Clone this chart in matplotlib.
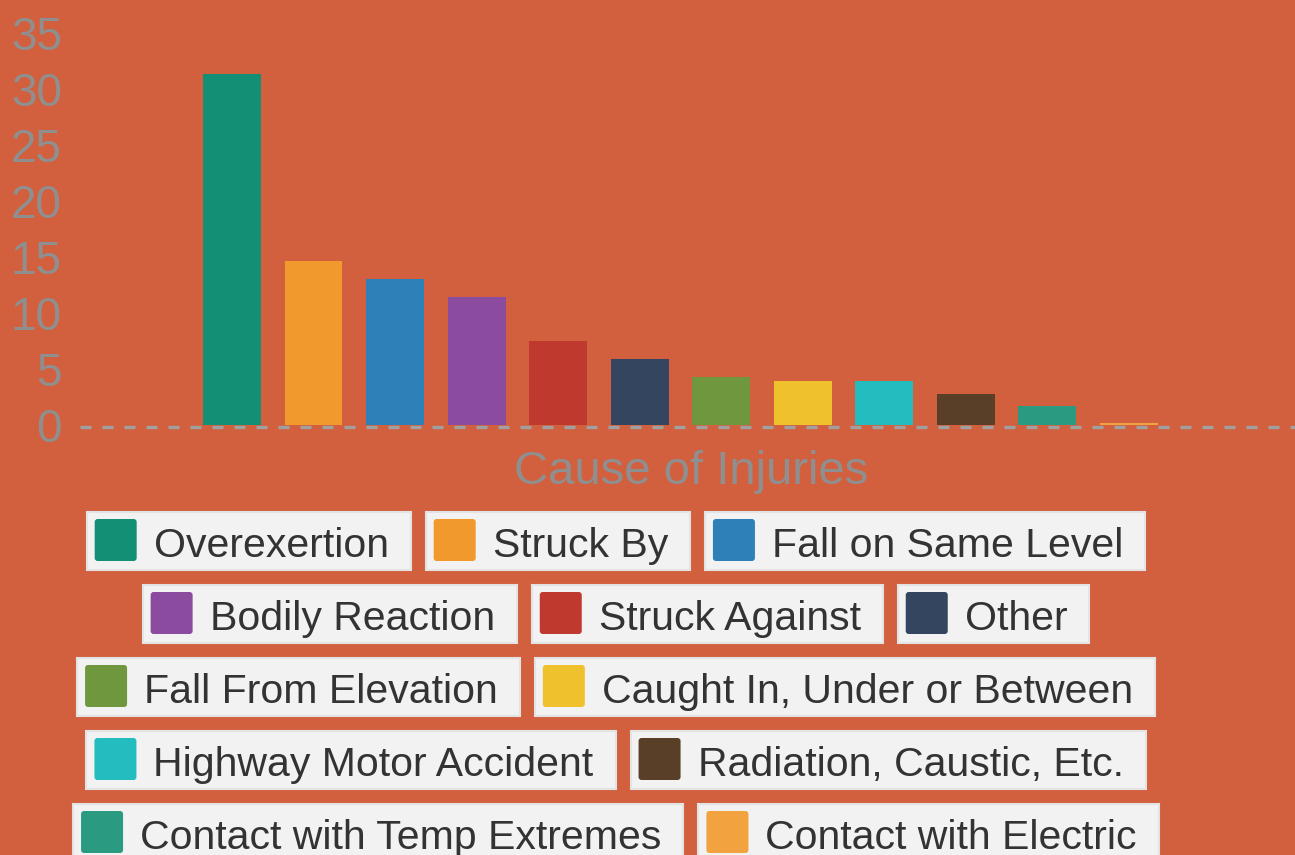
import matplotlib
matplotlib.use('Agg')
import matplotlib.pyplot as plt
import matplotlib.transforms as mtransforms
from matplotlib.patches import Rectangle, FancyBboxPatch

causes = ['Overexertion', 'Struck By', 'Fall on Same Level', 'Bodily Reaction',
          'Struck Against', 'Other', 'Fall From Elevation',
          'Caught In, Under or Between', 'Highway Motor Accident',
          'Radiation, Caustic, Etc.', 'Contact with Temp Extremes',
          'Contact with Electric']
values = [31.3, 14.6, 13.0, 11.4, 7.5, 5.9, 4.3, 3.9, 3.9, 2.8, 1.7, 0.2]
colors = ['#138f75', '#f1992c', '#2e80b9', '#8b4b9e', '#c0392e', '#34465f',
          '#6f983e', '#eec12d', '#23bdbf', '#5a3f28', '#2a9a80', '#f2a23e']
yticks = [0, 5, 10, 15, 20, 25, 30, 35]

bg = '#d2603f'
grey = '#8f8f8f'
plt.rcParams['font.family'] = ['Liberation Sans', 'DejaVu Sans']

W, H = 1295, 855
fig = plt.figure(figsize=(W / 100, H / 100), dpi=100, facecolor=bg)

# main bar axes, placed in pixel terms
ax = fig.add_axes([80 / W, (H - 425) / H, (W - 80) / W, (425 - 33) / H])
ax.set_facecolor(bg)
x = list(range(len(values)))
ax.bar(x, values, width=0.71, color=colors, zorder=2)
# zero line sits a hair below the bar bases
shift = mtransforms.ScaledTranslation(0, -2 / 100, fig.dpi_scale_trans)
ax.plot([0, 1], [0, 0], color='#a0a0a0', lw=2.4, linestyle=(0, (3.3, 3.3)),
        zorder=1, clip_on=False, transform=ax.get_yaxis_transform() + shift)
ax.set_xlim(-1.865, 13.04)
ax.set_ylim(0, 35)
ax.set_yticks(yticks)
ax.set_yticklabels([str(t) for t in yticks], fontsize=33, color=grey)
ax.tick_params(axis='y', length=0, pad=13)
ax.set_xticks([])
for s in ax.spines.values():
    s.set_visible(False)
ax.set_xlabel('Cause of Injuries', fontsize=34, color=grey)
ax.xaxis.set_label_coords(0.5 + 4 / 1215, -0.063)

# legend: flow layout of boxed items, in pixel coordinates
lg = fig.add_axes([0, 0, 1, 1])
lg.set_xlim(0, W)
lg.set_ylim(H, 0)
lg.axis('off')
lg.patch.set_alpha(0)

renderer = fig.canvas.get_renderer()
fs = 29.5
texts, widths = [], []
for c in causes:
    t = lg.text(0, 0, c, fontsize=fs, color='#333333',
                va='baseline', ha='left', zorder=5)
    texts.append(t)
    widths.append(t.get_window_extent(renderer).width + 89)

gap, maxw, cx = 15, 1150, 616
rows, cur, curw = [], [], 0
for i, w in enumerate(widths):
    add = w if not cur else w + gap
    if cur and curw + add > maxw:
        rows.append(cur)
        cur, curw = [i], w
    else:
        cur.append(i)
        curw += add
rows.append(cur)

top0, pitch, bh = 512, 73, 58
for r, row in enumerate(rows):
    total = sum(widths[i] for i in row) + gap * (len(row) - 1)
    left = cx - total / 2
    top = top0 + r * pitch
    for i in row:
        w = widths[i]
        lg.add_patch(Rectangle((left, top), w, bh, facecolor='#f2f2f2',
                               edgecolor='#e3e3e3', lw=1.5, zorder=3))
        lg.add_patch(FancyBboxPatch((left + 8, top + 7), 42, 42,
                                    boxstyle='round,pad=0,rounding_size=3',
                                    facecolor=colors[i], edgecolor='none',
                                    zorder=4))
        texts[i].set_position((left + 67, top + bh - 13))
        left += w + gap

fig.savefig('out.png', dpi=100, facecolor=bg)
